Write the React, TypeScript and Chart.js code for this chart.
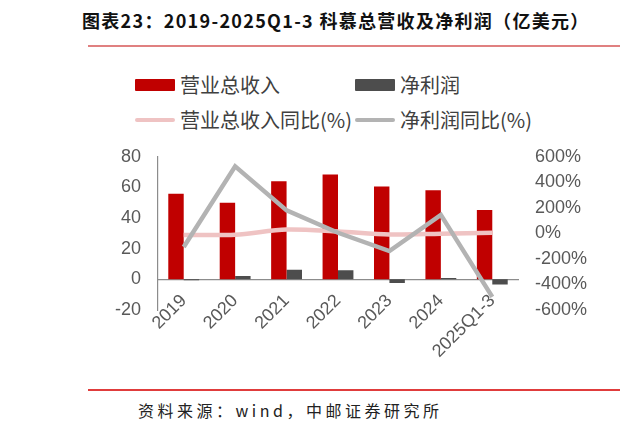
import { useEffect, useRef } from "react"
import { Chart, registerables } from "chart.js"

Chart.register(...registerables)

const years = ["2019", "2020", "2021", "2022", "2023", "2024", "2025Q1-3"]
const revenue = [55.9, 50.0, 64.0, 68.5, 60.6, 58.2, 45.2]
const netProfit = [-0.5, 2.2, 6.2, 5.9, -2.4, 0.9, -3.3]
const revenueYoy = [-12, -10, 30, 15, -8, -2, 5]
const profitYoy = [-106, 525, 180, 5, -138, 145, -497]

const leftTicks = [-20, 0, 20, 40, 60, 80]
const rightTicks = [-600, -400, -200, 0, 200, 400, 600]

const RED = "#C00000"
const DARK = "#4D4D4D"
const PINK = "#EFC3C3"
const GREY = "#B3B3B3"

const tickFont = { family: "'Liberation Sans', Arial, sans-serif", size: 18 }

function Legend() {
  const items = [
    { label: "营业总收入", color: RED, kind: "box", left: 135, top: 85 },
    { label: "净利润", color: DARK, kind: "box", left: 355, top: 85 },
    { label: "营业总收入同比(%)", color: PINK, kind: "line", left: 135, top: 120 },
    { label: "净利润同比(%)", color: GREY, kind: "line", left: 355, top: 120 },
  ]
  return (
    <>
      {items.map((it) => (
        <div
          key={it.label}
          style={{
            position: "absolute",
            left: it.left,
            top: it.top - 14,
            height: 28,
            display: "flex",
            alignItems: "center",
            whiteSpace: "nowrap",
          }}
        >
          <span
            style={{
              display: "inline-block",
              width: 40,
              height: it.kind === "box" ? 12 : 4,
              borderRadius: it.kind === "box" ? 1 : 2,
              background: it.color,
              marginRight: 5,
            }}
          />
          <span style={{ fontSize: 20, color: "#404040", lineHeight: "28px" }}>{it.label}</span>
        </div>
      ))}
    </>
  )
}

export default function App() {
  const chartRef = useRef<HTMLCanvasElement>(null)
  const chartInstance = useRef<Chart | null>(null)

  useEffect(() => {
    if (!chartRef.current) return
    if (chartInstance.current) {
      chartInstance.current.destroy()
    }
    const ctx = chartRef.current.getContext("2d")
    if (!ctx) return

    chartInstance.current = new Chart(ctx, {
      type: "bar",
      data: {
        labels: years,
        datasets: [
          {
            type: "line",
            label: "净利润同比(%)",
            data: profitYoy,
            yAxisID: "y1",
            borderColor: GREY,
            borderWidth: 4.5,
            pointRadius: 0,
            tension: 0,
            order: 1,
          },
          {
            type: "line",
            label: "营业总收入同比(%)",
            data: revenueYoy,
            yAxisID: "y1",
            borderColor: PINK,
            borderWidth: 4.5,
            pointRadius: 0,
            tension: 0.3,
            order: 2,
          },
          {
            label: "营业总收入",
            data: revenue,
            yAxisID: "y",
            backgroundColor: RED,
            categoryPercentage: 0.6,
            barPercentage: 1,
            order: 3,
          },
          {
            label: "净利润",
            data: netProfit,
            yAxisID: "y",
            backgroundColor: DARK,
            categoryPercentage: 0.6,
            barPercentage: 1,
            order: 4,
          },
        ],
      },
      options: {
        responsive: false,
        animation: false,
        layout: { padding: { top: 6, left: 0, right: 0, bottom: 70 } },
        plugins: {
          legend: { display: false },
          tooltip: { enabled: false },
        },
        scales: {
          x: {
            position: { y: 0 },
            grid: { display: false, drawTicks: false },
            border: { display: true, color: "#8C8C8C", width: 1.2 },
            ticks: {
              font: tickFont,
              color: "#595959",
              minRotation: 45,
              maxRotation: 45,
              padding: 11,
            },
          },
          y: {
            position: "left",
            min: -20,
            max: 80,
            afterBuildTicks: (scale: any) => {
              scale.ticks = leftTicks.map((v) => ({ value: v }))
            },
            grid: { display: false, drawTicks: false },
            border: { display: true, color: "#8C8C8C", width: 1.2 },
            ticks: { font: tickFont, color: "#595959", padding: 17, autoSkip: false },
            afterFit: (scale: any) => {
              scale.width = 58
            },
          },
          y1: {
            position: "right",
            min: -600,
            max: 600,
            afterBuildTicks: (scale: any) => {
              scale.ticks = rightTicks.map((v) => ({ value: v }))
            },
            grid: { display: false, drawTicks: false },
            border: { display: false },
            ticks: {
              font: tickFont,
              color: "#595959",
              padding: 17,
              autoSkip: false,
              callback: (v: any) => `${v}%`,
            },
            afterFit: (scale: any) => {
              scale.width = 72
            },
          },
        },
      },
    })

    return () => {
      if (chartInstance.current) {
        chartInstance.current.destroy()
        chartInstance.current = null
      }
    }
  }, [])

  return (
    <div
      style={{
        position: "fixed",
        left: 0,
        top: 0,
        width: 620,
        height: 430,
        background: "#fff",
        overflow: "hidden",
        fontFamily: "'Noto Sans CJK SC', sans-serif",
      }}
    >
      <div
        style={{
          position: "absolute",
          left: 82,
          top: 6,
          fontSize: 18,
          fontWeight: 700,
          color: "#111",
          whiteSpace: "nowrap",
          lineHeight: "28px",
          letterSpacing: 1.3,
        }}
      >
        图表23：2019-2025Q1-3 科慕总营收及净利润（亿美元）
      </div>
      <div style={{ position: "absolute", left: 88, top: 45, width: 532, height: 2, background: "#E08080" }} />
      <Legend />
      <canvas
        ref={chartRef}
        width={490}
        height={251}
        style={{ position: "absolute", left: 100, top: 129, width: 490, height: 251 }}
      />
      <div style={{ position: "absolute", left: 88, top: 389, width: 532, height: 2, background: "#E03C3C" }} />
      <div
        style={{
          position: "absolute",
          left: 138,
          top: 397,
          fontSize: 16,
          color: "#222",
          letterSpacing: 3.5,
          whiteSpace: "nowrap",
          lineHeight: "26px",
        }}
      >
        资料来源：wind，中邮证券研究所
      </div>
    </div>
  )
}
